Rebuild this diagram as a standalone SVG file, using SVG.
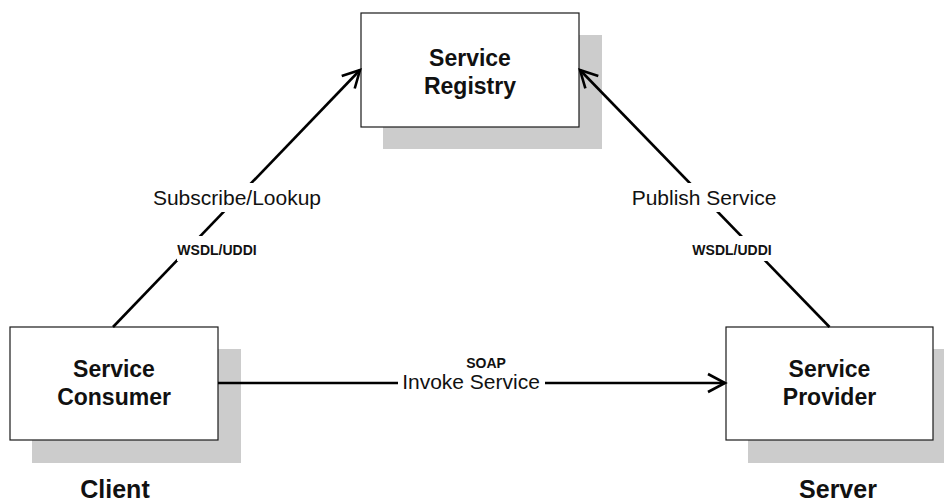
<svg xmlns="http://www.w3.org/2000/svg" width="944" height="504" viewBox="0 0 944 504">
  <style>
    .shadow { fill: #cccccc; }
    .box { fill: #ffffff; stroke: #1a1a1a; stroke-width: 1.2; }
    .node { font-family: "Liberation Sans", Arial, sans-serif; font-weight: bold; font-size: 23px; fill: #111; text-anchor: middle; }
    .side { font-family: "Liberation Sans", Arial, sans-serif; font-weight: bold; font-size: 25px; fill: #111; text-anchor: middle; }
    .conn { stroke: #000; stroke-width: 2.6; fill: none; }
    .lbl { font-family: "Liberation Sans", Arial, sans-serif; font-size: 21px; fill: #111; text-anchor: middle; }
    .proto { font-family: "Liberation Sans", Arial, sans-serif; font-weight: bold; font-size: 14px; fill: #111; text-anchor: middle; }
    .bg { fill: #ffffff; }
  </style>
  <defs>
    <marker id="arrow" markerUnits="userSpaceOnUse" markerWidth="40" markerHeight="40" refX="0" refY="0" orient="auto" overflow="visible">
      <path d="M-17,-9 L0,0 L-17,9" fill="none" stroke="#000" stroke-width="2.6" stroke-linejoin="miter"/>
    </marker>
  </defs>
  <rect width="944" height="504" fill="#ffffff"/>

  <g id="registry">
    <rect class="shadow" x="383" y="35" width="219" height="114"/>
    <rect class="box" x="361" y="13" width="218" height="114"/>
    <text class="node" x="470" y="66">Service</text>
    <text class="node" x="470" y="94">Registry</text>
  </g>

  <g id="consumer">
    <rect class="shadow" x="32" y="349" width="209" height="114"/>
    <rect class="box" x="10" y="327" width="208" height="113"/>
    <text class="node" x="114" y="377">Service</text>
    <text class="node" x="114" y="405">Consumer</text>
  </g>

  <g id="provider">
    <rect class="shadow" x="748" y="349" width="210" height="114"/>
    <rect class="box" x="726" y="327" width="207" height="113"/>
    <text class="node" x="829.5" y="377">Service</text>
    <text class="node" x="829.5" y="405">Provider</text>
  </g>

  <g id="client-label">
    <text class="side" x="115" y="498">Client</text>
  </g>
  <g id="server-label">
    <text class="side" x="838" y="498">Server</text>
  </g>

  <g id="connectors">
    <line class="conn" x1="113" y1="327" x2="360" y2="70" marker-end="url(#arrow)"/>
    <line class="conn" x1="829.5" y1="327" x2="580" y2="70" marker-end="url(#arrow)"/>
    <line class="conn" x1="218" y1="383" x2="725" y2="383" marker-end="url(#arrow)"/>

    <rect class="bg" x="150" y="183" width="176" height="29"/>
    <text class="lbl" x="237" y="205">Subscribe/Lookup</text>
    <rect class="bg" x="177" y="236" width="81" height="25"/>
    <text class="proto" x="217" y="255">WSDL/UDDI</text>

    <rect class="bg" x="628" y="183" width="152" height="29"/>
    <text class="lbl" x="704" y="205">Publish Service</text>
    <rect class="bg" x="691" y="236" width="82" height="25"/>
    <text class="proto" x="732" y="255">WSDL/UDDI</text>

    <text class="proto" x="486" y="368">SOAP</text>
    <rect class="bg" x="398" y="372" width="147" height="22"/>
    <text class="lbl" x="471" y="389">Invoke Service</text>
  </g>
</svg>
